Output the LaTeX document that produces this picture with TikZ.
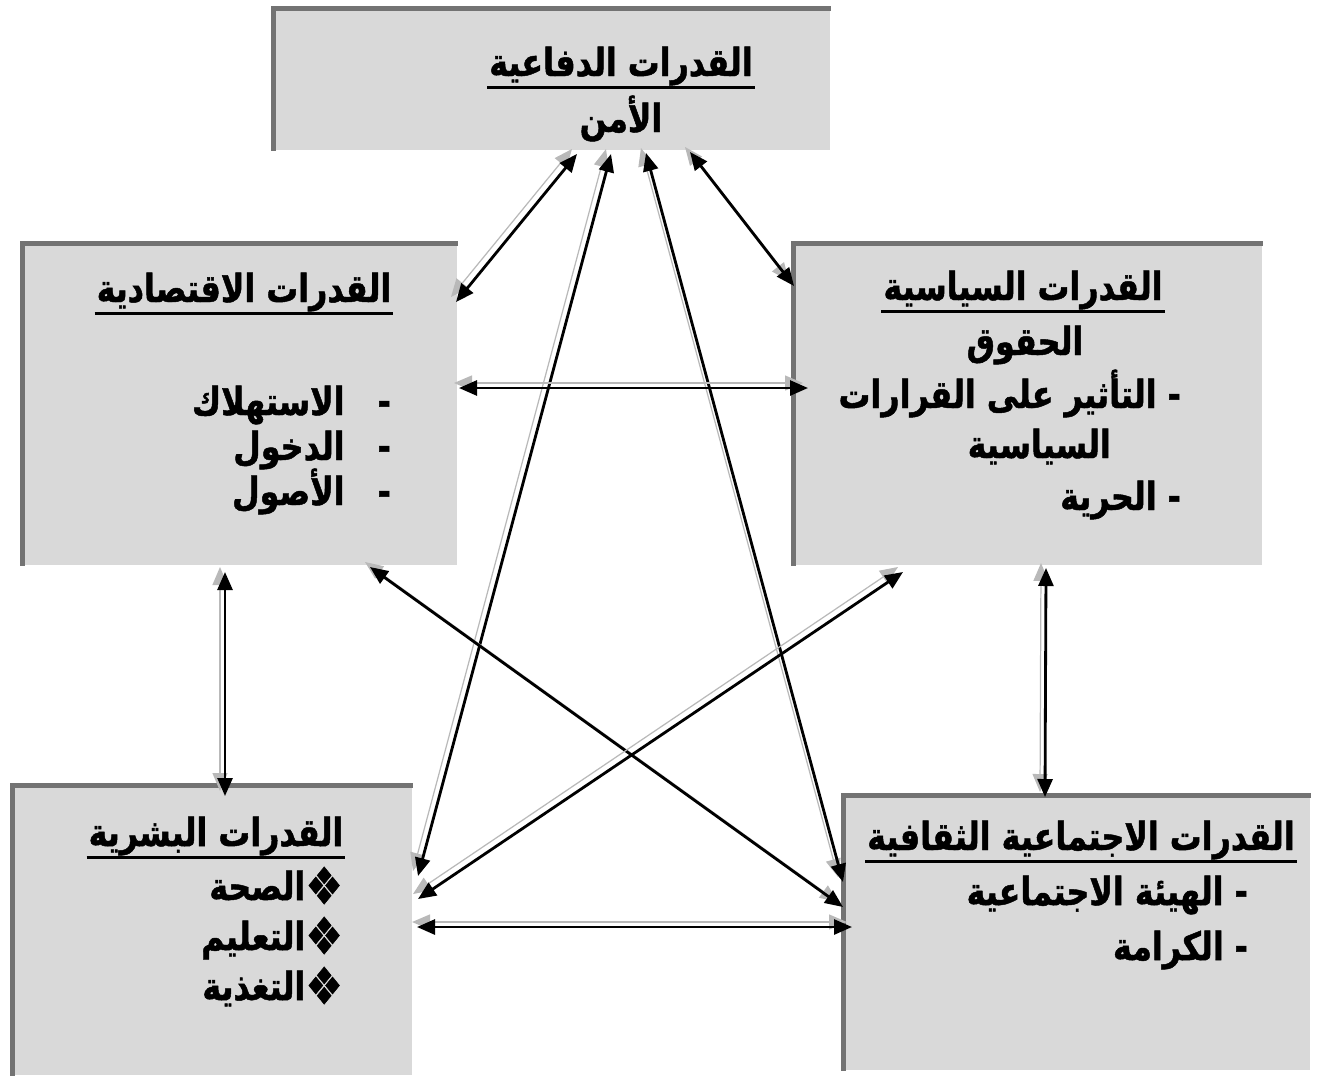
\documentclass[tikz,border=0pt]{standalone}
\usepackage{fontspec}
\newfontfamily\arabicfont[Script=Arabic, FakeStretch=0.82, BoldFeatures={FakeBold=1.2}]{DejaVu Sans}
\newcommand\bigbullet{\raisebox{-0.8mm}[0pt][0pt]{\fontsize{29}{29}\selectfont ❖}}
\TeXXeTstate=1
\usetikzlibrary{arrows.meta}

\begin{document}
\begin{tikzpicture}[x=0.2mm, y=-0.2mm,
    box/.style={rectangle, fill=black!15, inner sep=0pt, anchor=north west},
    rim/.style={line width=1mm, black!55},
    head/.style={font=\arabicfont\bfseries\fontsize{22}{26}\selectfont, inner sep=1pt, anchor=base},
    item/.style={head, anchor=base east},
    rule/.style={line width=0.7mm},
    link/.style={{Triangle[length=3.6mm,width=3mm]}-{Triangle[length=3.6mm,width=3mm]}, line width=1.6pt},
    ghost/.style={link, gray!55, line width=0.7pt},
  ]
    \useasboundingbox (0,0) rectangle (1317,1075);

    % boxes
    \node[box, minimum width=111.4mm, minimum height=28.4mm] (def)  at (273,8)   {};
    \node[box, minimum width=87mm,    minimum height=64.4mm] (econ) at (22,243)  {};
    \node[box, minimum width=93.8mm,  minimum height=64.4mm] (pol)  at (793,243) {};
    \node[box, minimum width=80mm,    minimum height=58mm]   (hum)  at (12,785)  {};
    \node[box, minimum width=93.4mm,  minimum height=55mm]   (soc)  at (843,795) {};
    \foreach \b in {def, econ, pol, hum, soc}
      \draw[rim] (\b.south west) -- (\b.north west) -- (\b.north east);

    % texts
    \node[head] (def-t) at (621,76) {\beginR القدرات الدفاعية\endR};
    \node[head] (def-a) at (621,132) {\beginR الأمن\endR};

    \node[head] (econ-t) at (244,302) {\beginR القدرات الاقتصادية\endR};
    \node[item] (econ-a) at (393,415) {\beginR -\ \ \ الاستهلاك\endR};
    \node[item] (econ-b) at (393,460) {\beginR -\ \ \ الدخول\endR};
    \node[item] (econ-c) at (393,505) {\beginR -\ \ \ الأصول\endR};

    \node[head] (pol-t) at (1023,300) {\beginR القدرات السياسية\endR};
    \node[head] (pol-a) at (1025,355) {\beginR الحقوق\endR};
    \node[item] (pol-b) at (1183,408) {\beginR -\ التأثير على القرارات\endR};
    \node[item] (pol-c) at (1113,458) {\beginR السياسية\endR};
    \node[item] (pol-d) at (1183,510) {\beginR -\ الحرية\endR};

    \node[head] (hum-t) at (216,846) {\beginR القدرات البشرية\endR};
    \node[item] (hum-a) at (345,900) {\beginR \bigbullet الصحة\endR};
    \node[item] (hum-b) at (345,950) {\beginR \bigbullet التعليم\endR};
    \node[item] (hum-c) at (345,1000) {\beginR \bigbullet التغذية\endR};

    \node[head] (soc-t) at (1081,850) {\beginR القدرات الاجتماعية الثقافية\endR};
    \node[item] (soc-a) at (1250,905) {\beginR -\ الهيئة الاجتماعية\endR};
    \node[item] (soc-b) at (1250,960) {\beginR -\ الكرامة\endR};

    \foreach \t in {def-t, econ-t, pol-t, hum-t, soc-t}
      \draw[rule] (\t.south west) -- (\t.south east);

    % arrow ends
    \coordinate (d1) at (577,154);  \coordinate (d2) at (611,154);
    \coordinate (d3) at (646,153);  \coordinate (d4) at (690,152);
    \coordinate (e1) at (456,302);  \coordinate (e2) at (459,388);
    \coordinate (e3) at (225,572);  \coordinate (e4) at (370,567);
    \coordinate (p1) at (794,286);  \coordinate (p2) at (808,388);
    \coordinate (p3) at (1046,568); \coordinate (p4) at (903,572);
    \coordinate (h1) at (418,876);  \coordinate (h2) at (225,796);
    \coordinate (h3) at (418,899);  \coordinate (h4) at (417,927);
    \coordinate (s1) at (843,882);  \coordinate (s2) at (1045,797);
    \coordinate (s3) at (843,907);  \coordinate (s4) at (852,927);

    \foreach \a/\b in {d1/e1, d2/h1, d3/s1, d4/p1, e2/p2, e3/h2, p3/s2, e4/s3, p4/h3, h4/s4} {
      \draw[ghost] ([shift={(-5,-5)}]\a) -- ([shift={(-5,-5)}]\b);
      \draw[link] (\a) -- (\b);
    }
  \end{tikzpicture}
\end{document}
